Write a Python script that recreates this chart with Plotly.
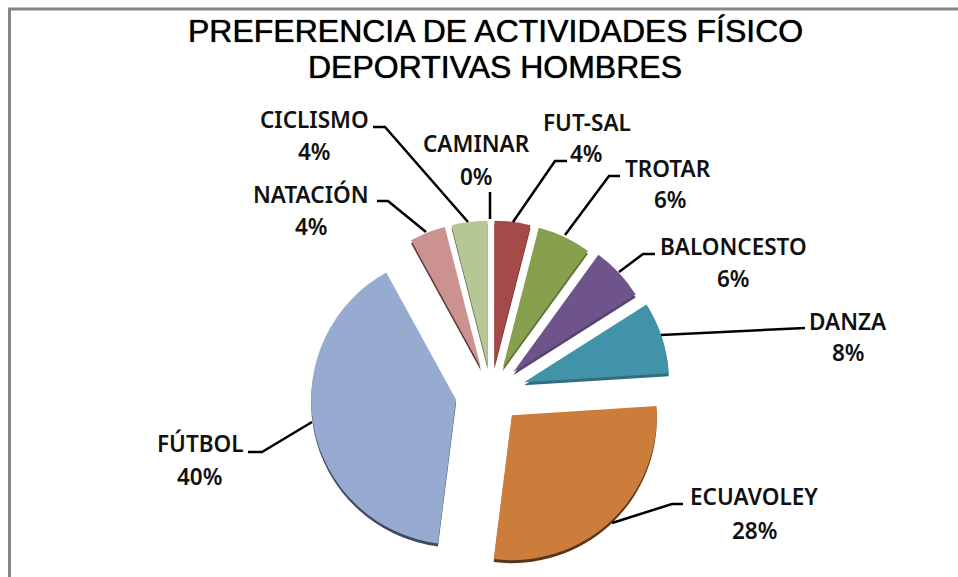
import plotly.graph_objects as go

W, H = 958, 577

activities = ["CAMINAR", "FUT-SAL", "TROTAR", "BALONCESTO", "DANZA",
              "ECUAVOLEY", "FÚTBOL", "NATACIÓN", "CICLISMO"]
shares = [0, 4, 6, 6, 8, 28, 40, 4, 4]
face_colors = ["#4F81BD", "#A54A48", "#87A04E", "#6E548A", "#4193A9",
               "#CD7D3B", "#96ABCF", "#CC9290", "#B6C796"]
rim_colors = ["#3A6190", "#6B2F2E", "#5F7236", "#574370", "#2F6E80",
              "#5A3518", "#3D4A66", "#5A3433", "#5E6B48"]
pulls = [0.19, 0.19, 0.19, 0.21, 0.24, 0.21, 0.245, 0.19, 0.19]
title_lines = ["PREFERENCIA DE ACTIVIDADES FÍSICO", "DEPORTIVAS HOMBRES"]

# centres of the name and the percentage, and leader lines, in page pixels
name_xy = [(476, 143), (587, 122), (668, 168), (733, 247), (848, 321),
           (754, 497), (200, 444), (311, 194), (314, 119)]
pct_xy = [(476, 176), (586, 154), (670, 200), (733, 279), (848, 353),
          (754, 530), (199, 476), (311, 226), (314, 151)]
leaders = [
    [(490, 192), (490, 219)],
    [(567, 161), (555, 161), (513, 222)],
    [(620, 176), (609, 176), (565, 235)],
    [(655, 254), (643, 254), (619, 272)],
    [(805, 328), (661, 335)],
    [(683, 504), (672, 504), (612, 523)],
    [(248, 452), (262, 452), (312, 422)],
    [(377, 201), (388, 201), (426, 232)],
    [(373, 127), (385, 127), (468, 222)],
]


def px(x, y):
    return x / W, 1 - y / H


def pie_domain(cx, cy, r):
    return dict(x=[(cx - r) / W, (cx + r) / W], y=[1 - (cy + r) / H, 1 - (cy - r) / H])


def add_text(x, y, text, font):
    ax, ay = px(x, y)
    fig.add_annotation(x=ax, y=ay, xref="paper", yref="paper", showarrow=False,
                       xanchor="center", yanchor="middle", text=text, font=font)


fig = go.Figure()
# darker copy underneath gives the 3D rim
for colors, cy in [(rim_colors, 396), (face_colors, 393)]:
    fig.add_trace(go.Pie(
        labels=activities, values=shares, sort=False, direction="clockwise",
        rotation=0, pull=pulls, textinfo="none", hoverinfo="label+percent",
        marker=dict(colors=colors, line=dict(width=0)),
        domain=pie_domain(491, cy, 180.5), showlegend=False,
    ))

label_font = dict(family="Noto Sans", size=22.5, weight=600, color="#111111")
for name, share, nxy, pxy in zip(activities, shares, name_xy, pct_xy):
    add_text(*nxy, name, label_font)
    add_text(*pxy, f"{share}%", label_font)

# text-shadow thickens the regular weight a little, bold would be too wide
title_font = dict(family="Liberation Sans", size=32, color="#000000",
                  shadow="0 0 1px #000000")
add_text(495, 31, title_lines[0], title_font)
add_text(495, 67, title_lines[1], title_font)

for pts in leaders:
    path = "M " + " L ".join("{:.5f} {:.5f}".format(*px(*p)) for p in pts)
    fig.add_shape(type="path", path=path, xref="paper", yref="paper",
                  line=dict(color="#000000", width=2.5))

# only the top and left edges of the chart frame are in the picture
frame = "M {:.5f} {:.5f} L {:.5f} {:.5f} L {:.5f} {:.5f}".format(
    *px(9.5, H), *px(9.5, 9), *px(W, 9))
fig.add_shape(type="path", path=frame, xref="paper", yref="paper",
              line=dict(color="#868686", width=3))

fig.update_layout(
    width=W, height=H,
    margin=dict(l=0, r=0, t=0, b=0),
    paper_bgcolor="white",
)

fig.write_html("out.html", config=dict(displayModeBar=False),
               post_script="document.body.style.margin='0';document.body.style.overflow='hidden';")
